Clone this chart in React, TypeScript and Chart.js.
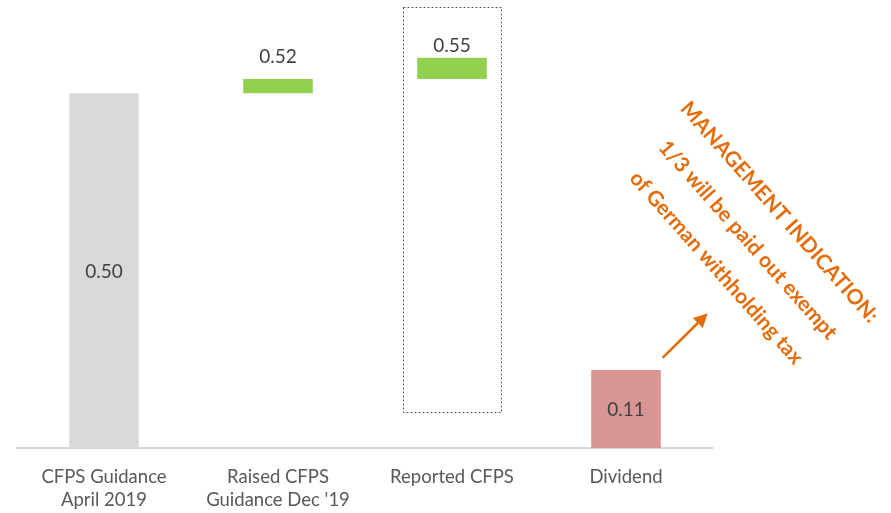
import React, { useEffect, useRef } from "react";
import { Chart, registerables } from "chart.js";

Chart.register(...registerables);

const categories: string[][] = [
  ["CFPS Guidance", "April 2019"],
  ["Raised CFPS", "Guidance Dec '19"],
  ["Reported CFPS"],
  ["Dividend"],
];
const barStarts = [0, 0.5, 0.52, 0];
const barEnds = [0.5, 0.52, 0.55, 0.11];
const valueLabels = ["0.50", "0.52", "0.55", "0.11"];
const barColors = ["#D9D9D9", "#92D050", "#92D050", "#D99594"];
const labelInside = [true, false, false, true];

// dashed highlight box around "Reported CFPS" (category index, value range)
const boxCategory = 2;
const boxRange = [0.052, 0.622];

const noteLines = [
  "MANAGEMENT INDICATION:",
  "1/3 will be paid out exempt",
  "of German withholding tax",
];
// annotation anchor in data coordinates (category index, value)
const noteCenter = [3.7, 0.293];
const arrowFrom = [3.21, 0.127];
const arrowTo = [3.47, 0.19];

const ORANGE = "#E46C0A";
const FONT = "Lato, 'Open Sans', sans-serif";

export default function App() {
  const ref = useRef<HTMLCanvasElement | null>(null);

  useEffect(() => {
    if (!ref.current) return;

    const overlay = {
      id: "overlay",
      afterDatasetsDraw(chart: any) {
        const ctx = chart.ctx as CanvasRenderingContext2D;
        const xs = chart.scales.x;
        const ys = chart.scales.y;
        const meta = chart.getDatasetMeta(0);
        const catW = xs.width / categories.length;

        // value labels
        ctx.save();
        ctx.font = `19px ${FONT}`;
        ctx.fillStyle = "#404040";
        ctx.textAlign = "center";
        ctx.textBaseline = "middle";
        const aboveOffsets = [0, 22, 12, 0];
        meta.data.forEach((bar: any, i: number) => {
          const top = ys.getPixelForValue(barEnds[i]);
          const bot = ys.getPixelForValue(barStarts[i]);
          const y = labelInside[i] ? (top + bot) / 2 + 1 : top - aboveOffsets[i];
          ctx.fillText(valueLabels[i], bar.x, y);
        });
        ctx.restore();

        // dashed box
        ctx.save();
        const cx = xs.getPixelForValue(boxCategory);
        const hw = catW * 0.282;
        const yT = ys.getPixelForValue(boxRange[1]);
        const yB = ys.getPixelForValue(boxRange[0]);
        ctx.strokeStyle = "#595959";
        ctx.lineWidth = 1;
        ctx.setLineDash([2, 2]);
        ctx.strokeRect(Math.round(cx - hw) + 0.5, Math.round(yT) + 0.5, Math.round(hw * 2), Math.round(yB - yT));
        ctx.restore();

        // rotated note
        ctx.save();
        const ncx = xs.getPixelForValue(0) + noteCenter[0] * catW;
        const ncy = ys.getPixelForValue(noteCenter[1]);
        const ang = (48.5 * Math.PI) / 180;
        ctx.translate(ncx, ncy);
        ctx.rotate(ang);
        ctx.fillStyle = ORANGE;
        ctx.font = `bold 21px ${FONT}`;
        ctx.textAlign = "center";
        ctx.textBaseline = "middle";
        const spacing = 42;
        noteLines.forEach((t, i) => {
          ctx.fillText(t, 0, (i - 1) * spacing);
        });
        ctx.restore();

        // arrow
        ctx.save();
        const x0 = xs.getPixelForValue(0) + arrowFrom[0] * catW;
        const y0 = ys.getPixelForValue(arrowFrom[1]);
        const x1 = xs.getPixelForValue(0) + arrowTo[0] * catW;
        const y1 = ys.getPixelForValue(arrowTo[1]);
        const a = Math.atan2(y1 - y0, x1 - x0);
        const headLen = 14;
        const headW = 7;
        const bx = x1 - headLen * Math.cos(a);
        const by = y1 - headLen * Math.sin(a);
        ctx.strokeStyle = ORANGE;
        ctx.fillStyle = ORANGE;
        ctx.lineWidth = 2.5;
        ctx.beginPath();
        ctx.moveTo(x0, y0);
        ctx.lineTo(bx, by);
        ctx.stroke();
        ctx.beginPath();
        ctx.moveTo(x1, y1);
        ctx.lineTo(bx + headW * Math.sin(a), by - headW * Math.cos(a));
        ctx.lineTo(bx - headW * Math.sin(a), by + headW * Math.cos(a));
        ctx.closePath();
        ctx.fill();
        ctx.restore();
      },
    };

    const chart = new Chart(ref.current, {
      type: "bar",
      data: {
        labels: categories,
        datasets: [
          {
            data: barStarts.map((s, i) => [s, barEnds[i]]) as any,
            backgroundColor: barColors,
            borderWidth: 0,
            barPercentage: 0.4,
            categoryPercentage: 1,
          },
        ],
      },
      options: {
        animation: false,
        responsive: true,
        maintainAspectRatio: false,
        layout: { padding: { left: 17, right: 178, top: 8, bottom: 0 } },
        plugins: { legend: { display: false }, tooltip: { enabled: false } },
        scales: {
          x: {
            grid: { display: false, drawTicks: false },
            border: { display: true, color: "#D9D9D9", width: 2 },
            ticks: {
              color: "#595959",
              font: { family: FONT, size: 18.5, lineHeight: 1.25 },
              padding: 17,
              maxRotation: 0,
              autoSkip: false,
            },
            afterFit(scale: any) {
              scale.height = 65;
            },
          },
          y: { display: false, min: 0, max: 0.62 },
        },
      },
      plugins: [overlay],
    });
    return () => chart.destroy();
  }, []);

  return (
    <div style={{ position: "absolute", left: 0, top: 0, width: 891, height: 513, background: "#fff" }}>
      <canvas ref={ref} />
    </div>
  );
}
